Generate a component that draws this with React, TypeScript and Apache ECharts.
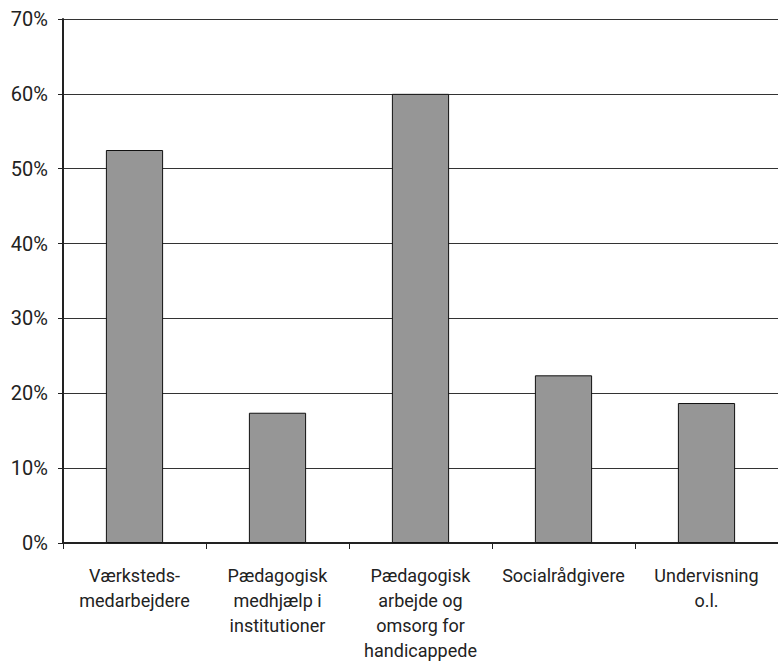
import React, { useEffect, useRef } from "react";
import * as echarts from "echarts";

const categories = [
  "Værksteds-\nmedarbejdere",
  "Pædagogisk\nmedhjælp i\ninstitutioner",
  "Pædagogisk\narbejde og\nomsorg for\nhandicappede",
  "Socialrådgivere",
  "Undervisning\no.l.",
];
const values = [52.5, 17.4, 60, 22.4, 18.7];
const yMin = 0;
const yMax = 70;
const yInterval = 10;

export default function App() {
  const ref = useRef<HTMLDivElement>(null);
  useEffect(() => {
    if (!ref.current) return;
    const chart = echarts.init(ref.current, null, { renderer: "svg" });
    chart.setOption({
      animation: false,
      backgroundColor: "#ffffff",
      grid: { left: 63, right: -1, top: 19, bottom: 117, containLabel: false },
      xAxis: {
        type: "category",
        data: categories,
        axisLine: { show: true, lineStyle: { color: "#222", width: 2 } },
        axisTick: { show: true, length: 6, alignWithLabel: false, lineStyle: { color: "#222", width: 1 } },
        axisLabel: {
          color: "#222",
          fontFamily: "Roboto",
          fontSize: 18,
          lineHeight: 25,
          margin: 20,
          interval: 0,
          align: "center",
        },
        splitLine: { show: false },
      },
      yAxis: {
        type: "value",
        min: yMin,
        max: yMax,
        interval: yInterval,
        axisLine: { show: true, lineStyle: { color: "#222", width: 2 } },
        axisTick: { show: true, length: 5, lineStyle: { color: "#222", width: 1 } },
        axisLabel: {
          color: "#222",
          fontFamily: "Roboto",
          fontSize: 20,
          margin: 15,
          formatter: (v: number) => `${v}%`,
        },
        splitLine: { show: true, lineStyle: { color: "#333", width: 1 } },
      },
      series: [
        {
          type: "bar",
          data: values,
          barWidth: "40%",
          itemStyle: { color: "#969696", borderColor: "#111", borderWidth: 1 },
        },
      ],
    });
    return () => chart.dispose();
  }, []);
  return (
    <div
      ref={ref}
      style={{ position: "fixed", left: 0, top: 0, width: 778, height: 663 }}
    />
  );
}
